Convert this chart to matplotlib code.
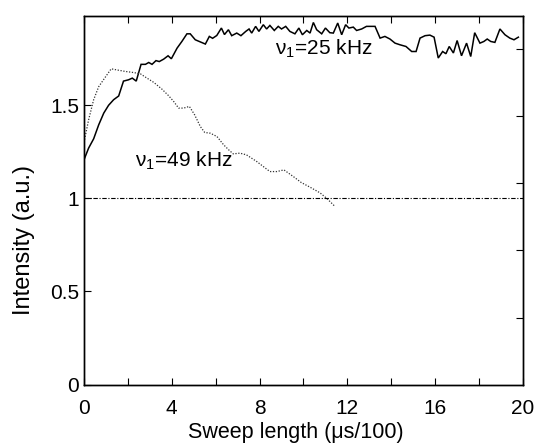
import matplotlib
matplotlib.use("Agg")
import matplotlib.pyplot as plt

plt.rcParams['font.family'] = ['Liberation Sans', 'DejaVu Sans']
plt.rcParams['mathtext.fontset'] = 'custom'
plt.rcParams['mathtext.rm'] = 'Liberation Sans'
plt.rcParams['mathtext.it'] = 'Liberation Sans'

# nu1 = 25 kHz signal
x25 = [0.0, 0.21, 0.44, 0.67, 0.9, 1.12, 1.35, 1.58, 1.8, 2.03, 2.2, 2.38, 2.6, 2.8,
       2.95, 3.1, 3.28, 3.43, 3.63, 3.83, 3.98, 4.24, 4.46, 4.69, 4.84, 5.07, 5.35,
       5.53, 5.71, 5.86, 6.05, 6.26, 6.4, 6.58, 6.73, 6.96, 7.15, 7.37, 7.52, 7.64,
       7.82, 7.97, 8.17, 8.32, 8.47, 8.67, 8.85, 9.0, 9.19, 9.38, 9.61, 9.79, 9.95,
       10.15, 10.3, 10.45, 10.6, 10.83, 11.0, 11.2, 11.36, 11.56, 11.74, 11.92, 12.07,
       12.27, 12.42, 12.65, 12.87, 13.05, 13.26, 13.49, 13.71, 13.94, 14.17, 14.4,
       14.67, 14.93, 15.13, 15.31, 15.54, 15.76, 15.95, 16.14, 16.34, 16.49, 16.64,
       16.83, 17.0, 17.2, 17.43, 17.62, 17.8, 18.04, 18.22, 18.37, 18.53, 18.72,
       18.95, 19.18, 19.4, 19.59, 19.79]
y25 = [1.207, 1.27, 1.32, 1.395, 1.458, 1.50, 1.53, 1.55, 1.63, 1.637, 1.646, 1.63,
       1.72, 1.72, 1.73, 1.72, 1.74, 1.735, 1.748, 1.766, 1.75, 1.807, 1.843, 1.884,
       1.884, 1.852, 1.838, 1.829, 1.87, 1.86, 1.875, 1.915, 1.88, 1.906, 1.874, 1.888,
       1.874, 1.897, 1.91, 1.888, 1.924, 1.897, 1.933, 1.91, 1.929, 1.902, 1.924,
       1.91, 1.924, 1.897, 1.884, 1.915, 1.879, 1.902, 1.888, 1.945, 1.906, 1.884,
       1.915, 1.89, 1.888, 1.942, 1.879, 1.933, 1.915, 1.92, 1.902, 1.91, 1.924,
       1.924, 1.924, 1.861, 1.87, 1.856, 1.834, 1.825, 1.816, 1.789, 1.789, 1.861,
       1.874, 1.877, 1.866, 1.754, 1.789, 1.777, 1.816, 1.781, 1.848, 1.766, 1.834,
       1.762, 1.89, 1.834, 1.843, 1.856, 1.843, 1.838, 1.91, 1.879, 1.861, 1.852,
       1.866]

# nu1 = 49 kHz signal
x49 = [0.0, 0.21, 0.44, 0.67, 0.94, 1.24, 1.5, 1.88, 2.26, 2.57, 2.87, 3.18, 3.55,
       3.86, 4.09, 4.31, 4.54, 4.8, 5.04, 5.3, 5.5, 5.76, 6.06, 6.36, 6.6, 6.8, 7.1,
       7.4, 7.87, 8.17, 8.47, 8.78, 9.11, 9.54, 9.9, 10.3, 10.75, 11.06, 11.44]
y49 = [1.30, 1.422, 1.53, 1.60, 1.646, 1.696, 1.69, 1.682, 1.676, 1.669, 1.646,
       1.623, 1.587, 1.551, 1.52, 1.485, 1.485, 1.494, 1.449, 1.386, 1.354, 1.35,
       1.332, 1.288, 1.26, 1.239, 1.243, 1.234, 1.198, 1.171, 1.144, 1.144, 1.153,
       1.117, 1.085, 1.06, 1.03, 1.0, 0.956]

ref_level = 1.0
x_ticks = [0, 2, 4, 6, 8, 10, 12, 14, 16, 18, 20]
x_ticklabels = ['0', '', '4', '', '8', '', '12', '', '16', '', '20']
y_ticks = [0, 0.5, 1, 1.5]
y_ticklabels = ['0', '0.5', '1', '1.5']

fig = plt.figure(figsize=(5.36, 4.43), dpi=100)
ax = fig.add_axes([0.1567, 0.132, 0.819, 0.832])

ax.plot(x25, y25, color='black', lw=1.1, solid_joinstyle='miter')
ax.plot(x49, y49, color='#333333', lw=0.9, linestyle=(0, (1, 1.3)))
ax.axhline(ref_level, color='black', lw=0.8, linestyle=(0, (4, 1.5, 1, 1.5)))

ax.set_xlim(0, 20)
ax.set_ylim(0, 1.98)
ax.set_xticks(x_ticks)
ax.set_xticklabels(x_ticklabels)
ax.set_yticks(y_ticks)
ax.set_yticklabels(y_ticklabels)
ax.tick_params(axis='both', direction='in', length=5, width=0.8,
               labelsize=15, top=True, right=False)
ax.tick_params(axis='x', pad=10.5)
ax.tick_params(axis='y', pad=3.5)

# right-hand frame ticks on their own scale
axr = ax.twinx()
axr.set_ylim(0, 5.5)
axr.set_yticks([1, 2, 3, 4, 5])
axr.tick_params(axis='y', direction='in', length=5, width=0.8, labelright=False)

for a in (ax, axr):
    for s in a.spines.values():
        s.set_linewidth(1.0)

ax.set_xlabel('Sweep length (\u03bcs/100)', fontsize=15.5)
ax.set_ylabel('Intensity (a.u.)', fontsize=17)
ax.xaxis.set_label_coords(0.483, -0.102)
ax.yaxis.set_label_coords(-0.112, 0.392)

ax.text(8.72, 1.771, r'$\mathrm{\nu}_{1}$=25 kHz', fontsize=15, ha='left', va='baseline')
ax.text(2.32, 1.169, r'$\mathrm{\nu}_{1}$=49 kHz', fontsize=15, ha='left', va='baseline')

fig.savefig('out.png', dpi=100)
